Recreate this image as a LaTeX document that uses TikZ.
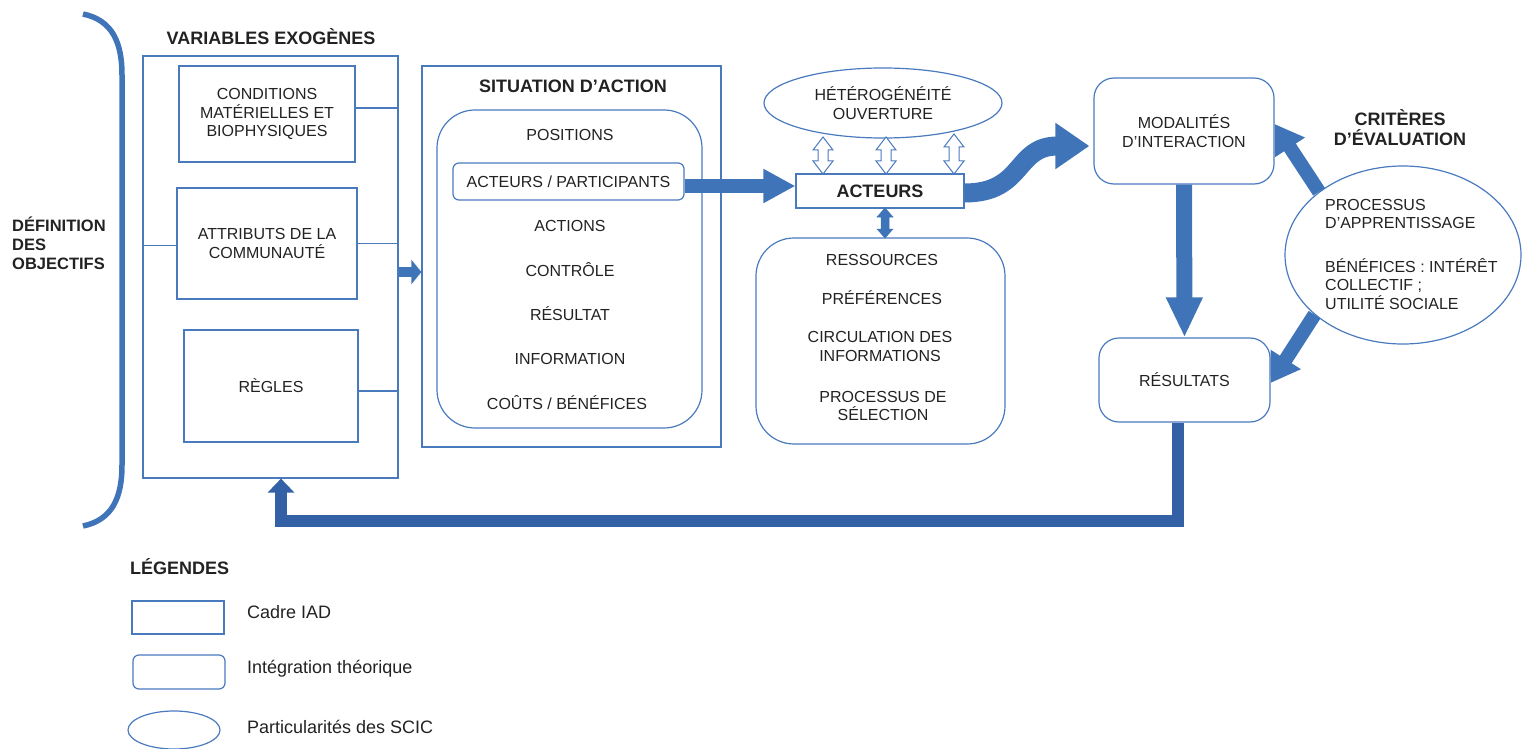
\documentclass[tikz,border=0pt]{standalone}
\usepackage{fontspec}
\setmainfont{Liberation Sans}
\usetikzlibrary{arrows.meta,shapes.geometric,calc}
\definecolor{lb}{HTML}{4A7ABE}
\definecolor{ab}{HTML}{3F74B8}
\definecolor{fbc}{HTML}{3461A6}
\definecolor{tx}{HTML}{222222}
\newcommand\dblarr[7]{%
\draw[#7] (#1,#2) -- (#1+#5,#2+#6) -- (#1+#4,#2+#6) -- (#1+#4,#3-#6) -- (#1+#5,#3-#6) -- (#1,#3) -- (#1-#5,#3-#6) -- (#1-#4,#3-#6) -- (#1-#4,#2+#6) -- (#1-#5,#2+#6) -- cycle;}
\begin{document}
\begin{tikzpicture}[x=1pt,y=-1pt,
  txt/.style={font=\fontsize{16pt}{18.5pt}\selectfont, align=center, inner sep=0, text=tx},
  ttl/.style={font=\bfseries\fontsize{18pt}{20pt}\selectfont, align=center, inner sep=0, text=tx},
  leg/.style={font=\fontsize{18pt}{20pt}\selectfont, anchor=west, inner sep=0, text=tx},
  iad/.style={draw=lb, line width=1.2pt, rectangle, inner sep=0},
  integ/.style={draw=lb, line width=1.2pt, rectangle, rounded corners=20pt, inner sep=0},
  scic/.style={draw=lb, line width=1.2pt, ellipse, inner sep=0},
  conn/.style={draw=lb, line width=1.2pt},
  fat/.style={draw=ab, line width=#1}]
\useasboundingbox (0,0) rectangle (1527,749);

% brace
\draw[ab, line width=5.5pt] (83,14) .. controls (112,20) and (122,42) .. (122,75) -- (122,465) .. controls (122,498) and (112,520) .. (83,526);
\node[font=\bfseries\fontsize{16.5pt}{19pt}\selectfont, anchor=west, align=left, inner sep=0, text=tx] (def) at (12,243) {DÉFINITION\\DES\\OBJECTIFS};

% exogenous variables
\node[ttl] (exot) at (271,37) {VARIABLES EXOGÈNES};
\node[iad, minimum width=255pt, minimum height=422pt] (exo) at (270.5,267) {};
\node[iad, txt, minimum width=176pt, minimum height=96pt] (cond) at (267,114) {CONDITIONS\\MATÉRIELLES ET\\BIOPHYSIQUES};
\node[iad, txt, minimum width=180pt, minimum height=111pt] (attr) at (267,243.5) {ATTRIBUTS DE LA\\COMMUNAUTÉ};
\node[iad, txt, minimum width=174pt, minimum height=112pt] (regl) at (271,386) {RÈGLES};
\draw[conn] ([yshift=6pt]cond.east) -- ([yshift=6pt]cond.east -| exo.east);
\draw[conn] (attr.east) -- (attr.east -| exo.east);
\draw[conn] ([yshift=-2pt]attr.west) -- ([yshift=-2pt]attr.west -| exo.west);
\draw[conn] ([yshift=-5pt]regl.east) -- ([yshift=-5pt]regl.east -| exo.east);

% action situation
\node[iad, minimum width=299pt, minimum height=381pt] (sit) at (571.5,256.5) {};
\node[ttl] (sitt) at (573,86) {SITUATION D’ACTION};
\node[integ, rounded corners=38pt, minimum width=265pt, minimum height=318pt] (siti) at (569.5,269) {};
\node[txt] (pos) at (570,135) {POSITIONS};
\node[integ, rounded corners=6pt, txt, minimum width=231pt, minimum height=37pt] (part) at (568.5,181.5) {ACTEURS / PARTICIPANTS};
\node[txt] (actions) at (570,226) {ACTIONS};
\node[txt] (ctrl) at (570,270) {CONTRÔLE};
\node[txt] (resu) at (570,314) {RÉSULTAT};
\node[txt] (info) at (570,359) {INFORMATION};
\node[txt] (cout) at (567,403) {COÛTS / BÉNÉFICES};

\draw[fat=10pt, -{Triangle[length=10pt,width=24pt]}] ([yshift=-5pt]exo.east) -- ([yshift=-5pt]exo.east -| sit.west);

% actors
\node[scic, txt, minimum width=238pt, minimum height=70pt] (het) at (883,103) {HÉTÉROGÉNÉITÉ\\OUVERTURE};
\node[iad, ttl, minimum width=168pt, minimum height=34pt] (act) at (880,191) {ACTEURS};
\node[integ, rounded corners=38pt, minimum width=249pt, minimum height=206pt] (ress) at (880.5,341) {};
\node[txt] (r1) at (882,260) {RESSOURCES};
\node[txt] (r2) at (882,298) {PRÉFÉRENCES};
\node[txt] (r3) at (880,346.5) {CIRCULATION DES\\INFORMATIONS};
\node[txt] (r4) at (883,406) {PROCESSUS DE\\SÉLECTION};

\dblarr{823}{137}{174}{5}{10}{13}{draw=lb, fill=white, line width=1pt}
\dblarr{886}{137}{174}{5}{10}{13}{draw=lb, fill=white, line width=1pt}
\dblarr{954}{134}{174}{5}{10}{13}{draw=lb, fill=white, line width=1pt}
\dblarr{885}{208}{238}{4}{8}{9}{draw=ab, fill=ab, line width=0.5pt}

\draw[fat=14pt, -{Triangle[length=32pt,width=32pt]}] ([yshift=-4.5pt]part.east) -- ([yshift=-4.5pt]part.east -| act.west);

% interaction / outcomes
\node[integ, txt, minimum width=180pt, minimum height=106pt] (modal) at (1184,131) {MODALITÉS\\D'INTERACTION};
\node[integ, txt, minimum width=171pt, minimum height=84pt] (res) at (1184.5,380) {RÉSULTATS};
\draw[fat=19pt, -{Triangle[length=34pt,width=44pt]}] ([yshift=-2pt]act.east) .. controls +(60,0) and +(-75,0) .. ([xshift=-4pt,yshift=-15pt]modal.west);
\draw[fat=16pt, -{Triangle[length=40pt,width=34pt]}] (modal.south) -- (res.north);

% evaluation criteria
\node[ttl] (critt) at (1400,128) {CRITÈRES\\D’ÉVALUATION};
\node[scic, minimum width=236pt, minimum height=178pt] (crit) at (1403,255) {};
\node[txt, anchor=west, align=left] (critx) at (1325,254) {PROCESSUS\\D’APPRENTISSAGE\\[25pt]BÉNÉFICES : INTÉRÊT\\COLLECTIF ;\\UTILITÉ SOCIALE};
\draw[fat=14pt, -{Triangle[length=28pt,width=34pt]}] (crit.143) -- ([yshift=7pt]modal.east);
\draw[fat=14pt, -{Triangle[length=28pt,width=34pt]}] (crit.214) -- ([yshift=-3pt]res.east);

% feedback
\coordinate (fb) at (281,521);
\draw[draw=fbc, line width=12pt, -{Triangle[length=14pt,width=26pt]}] ([xshift=-7pt]res.south) |- (fb) -- (fb |- exo.south);

% legend
\node[ttl, anchor=west] (legt) at (130,567) {LÉGENDES};
\node[iad, minimum width=92pt, minimum height=33pt] (l1) at (178,617.5) {};
\node[integ, rounded corners=6pt, minimum width=92pt, minimum height=34pt] (l2) at (179,672) {};
\node[scic, minimum width=92pt, minimum height=38pt] (l3) at (174,730) {};
\node[leg] (l1t) at (247,612) {Cadre IAD};
\node[leg] (l2t) at (247,669) {Intégration théorique};
\node[leg] (l3t) at (247,727) {Particularités des SCIC};
\end{tikzpicture}
\end{document}
